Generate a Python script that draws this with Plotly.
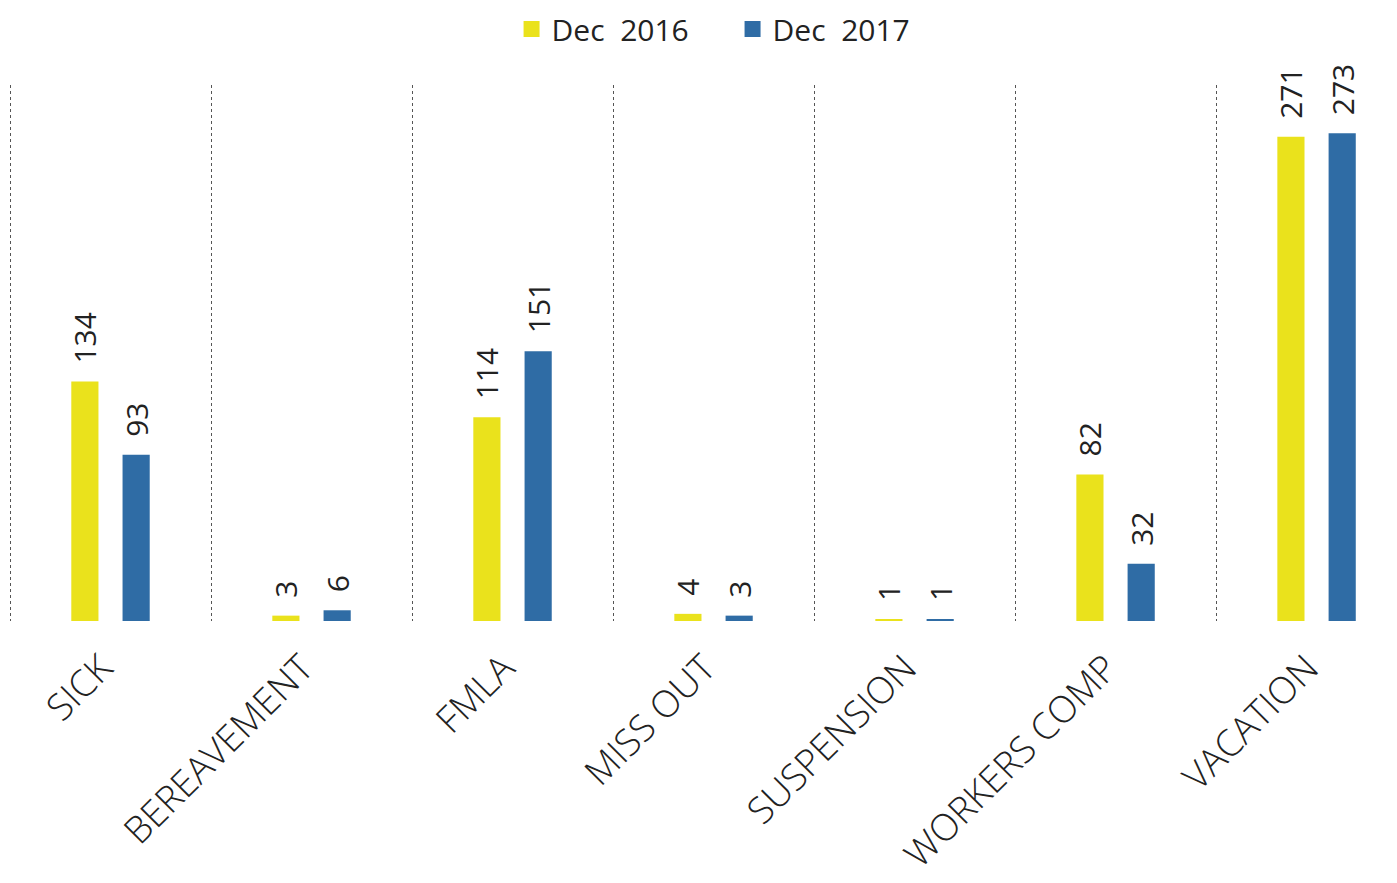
import plotly.graph_objects as go

categories = ["SICK", "BEREAVEMENT", "FMLA", "MISS OUT", "SUSPENSION", "WORKERS COMP", "VACATION"]
dec_2016 = [134, 3, 114, 4, 1, 82, 271]
dec_2017 = [93, 6, 151, 3, 1, 32, 273]
series_names = ["Dec  2016", "Dec  2017"]
colors = ["#EAE21C", "#2F6CA5"]

FONT = "Open Sans, Lato, sans-serif"
PAD = "\u2002"  # small gap between bar top and its value label

fig = go.Figure()
for name, vals, col in zip(series_names, [dec_2016, dec_2017], colors):
    fig.add_trace(go.Bar(
        x=categories, y=vals, name=name, showlegend=False,
        marker=dict(color=col, line=dict(width=0)),
        text=[PAD + str(v) for v in vals], textposition="outside", textangle=-90,
        textfont=dict(size=30, color="#222", family=FONT),
        constraintext="none", cliponaxis=False,
    ))
# legend entries with larger square swatches
for name, col in zip(series_names, colors):
    fig.add_trace(go.Scatter(
        x=[None], y=[None], mode="markers", name=name,
        marker=dict(symbol="square", size=20, color=col),
    ))

fig.update_layout(
    width=1397, height=883,
    margin=dict(l=1, r=0, t=77, b=270, autoexpand=False),
    paper_bgcolor="white", plot_bgcolor="white",
    barmode="group", bargap=0.49, bargroupgap=0.47,
    font=dict(family=FONT, color="#222"),
    legend=dict(orientation="h", x=0.36, xanchor="left", y=1.1045, yanchor="middle",
                font=dict(size=30, family=FONT), itemsizing="trace", traceorder="normal",
                itemwidth=30, entrywidth=176, entrywidthmode="pixels"),
    xaxis=dict(range=[-0.505, 6.44], tickson="boundaries", showgrid=True, gridcolor="#555",
               griddash="dot", gridwidth=1, tickangle=-45, ticks="", showline=False,
               automargin=False, ticklabelstandoff=17, ticklabelshift=-9,
               tickfont=dict(size=37, family=FONT, color="#222", weight=300), zeroline=False),
    yaxis=dict(range=[0, 300], showgrid=False, showticklabels=False, zeroline=False,
               showline=False, automargin=False),
    showlegend=True,
)
fig.write_html("out.html")
